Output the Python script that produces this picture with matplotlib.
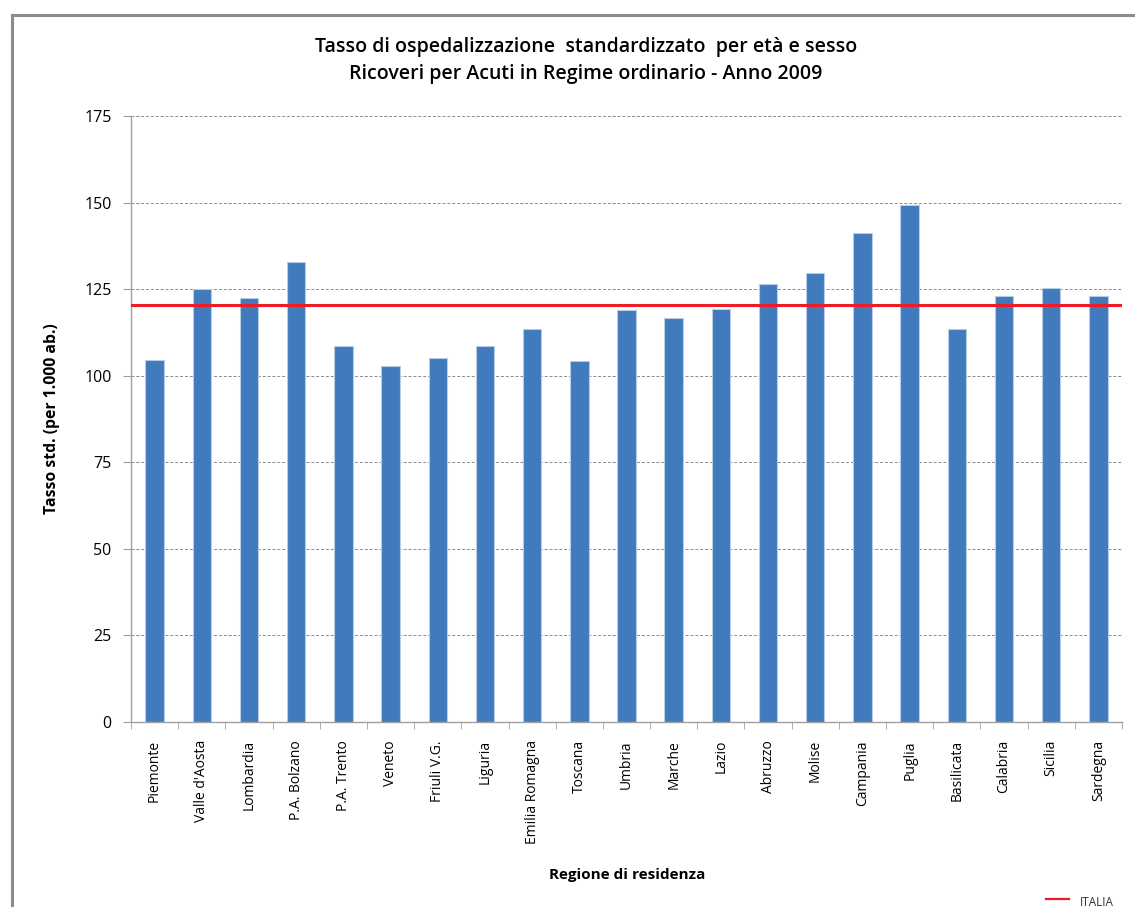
import matplotlib.pyplot as plt
import numpy as np
from matplotlib.patches import Rectangle
from matplotlib.lines import Line2D

regioni = ['Piemonte', "Valle d'Aosta", 'Lombardia', 'P.A. Bolzano', 'P.A. Trento',
           'Veneto', 'Friuli V.G.', 'Liguria', 'Emilia Romagna', 'Toscana',
           'Umbria', 'Marche', 'Lazio', 'Abruzzo', 'Molise', 'Campania',
           'Puglia', 'Basilicata', 'Calabria', 'Sicilia', 'Sardegna']
tassi = [104.6, 124.9, 122.3, 132.7, 108.5, 102.7, 105.0, 108.5, 113.5, 104.3,
         118.9, 116.6, 119.2, 126.4, 129.8, 141.3, 149.2, 113.5, 122.9, 125.2, 122.9]
italia = 120.4
yticks = [0, 25, 50, 75, 100, 125, 150, 175]

plt.rcParams['font.family'] = ['Open Sans', 'DejaVu Sans']

fig = plt.figure(figsize=(11.35, 9.07), dpi=100)
# cornice del grafico
fig.patches.append(Rectangle((12 / 1135, -0.1), 1.2, (907 - 15) / 907 + 0.1,
                             transform=fig.transFigure, fill=False,
                             edgecolor='#8c8c8c', linewidth=2.2))

ax = fig.add_axes([131 / 1135, 1 - 722 / 907, (1122 - 131) / 1135, (722 - 116) / 907])

x = np.arange(len(regioni))
ax.bar(x, tassi, width=0.39, color='#417abd', edgecolor='#b8cce4', linewidth=0.8, zorder=2)
ax.axhline(italia, color='#ee1c25', linewidth=2.2, zorder=3)

ax.set_xlim(-0.5, len(regioni) - 0.5)
ax.set_ylim(0, 175)
ax.set_yticks(yticks)
ax.set_yticklabels([str(v) for v in yticks], fontsize=11.5)
ax.yaxis.grid(True, linestyle=(0, (3, 2)), color='#8a8a8a', linewidth=0.7)
ax.set_axisbelow(True)

ax.set_xticks(x)
ax.set_xticklabels(regioni, rotation=90, fontsize=10)
ax.set_xticks(np.arange(len(regioni) + 1) - 0.5, minor=True)
ax.tick_params(axis='x', which='major', length=0, pad=13)
ax.tick_params(axis='x', which='minor', length=5, color='#a0a0a0', direction='out')
ax.tick_params(axis='y', length=6, color='#a0a0a0', direction='out', pad=8)

for s in ['top', 'right']:
    ax.spines[s].set_visible(False)
for s in ['left', 'bottom']:
    ax.spines[s].set_color('#a0a0a0')
    ax.spines[s].set_linewidth(1.0)

fig.text(586 / 1135, 1 - 47 / 907, 'Tasso di ospedalizzazione  standardizzato  per età e sesso',
         ha='center', va='center', fontsize=14, fontweight='semibold')
fig.text(586 / 1135, 1 - 74 / 907, 'Ricoveri per Acuti in Regime ordinario - Anno 2009',
         ha='center', va='center', fontsize=14, fontweight='semibold')
fig.text(627 / 1135, 1 - 875 / 907, 'Regione di residenza',
         ha='center', va='center', fontsize=11, fontweight='bold')
fig.text(52 / 1135, 1 - 419 / 907, 'Tasso std. (per 1.000 ab.)',
         ha='center', va='center', rotation=90, fontsize=11.3, fontweight='bold')

# legenda
fig.lines.append(Line2D([1046 / 1135, 1069 / 1135], [1 - 899 / 907] * 2,
                        transform=fig.transFigure, color='#ee1c25', linewidth=1.6))
fig.text(1080 / 1135, 1 - 902 / 907, 'ITALIA', ha='left', va='center', fontsize=8.5, color='#333333')

fig.savefig('out.png', dpi=100)
